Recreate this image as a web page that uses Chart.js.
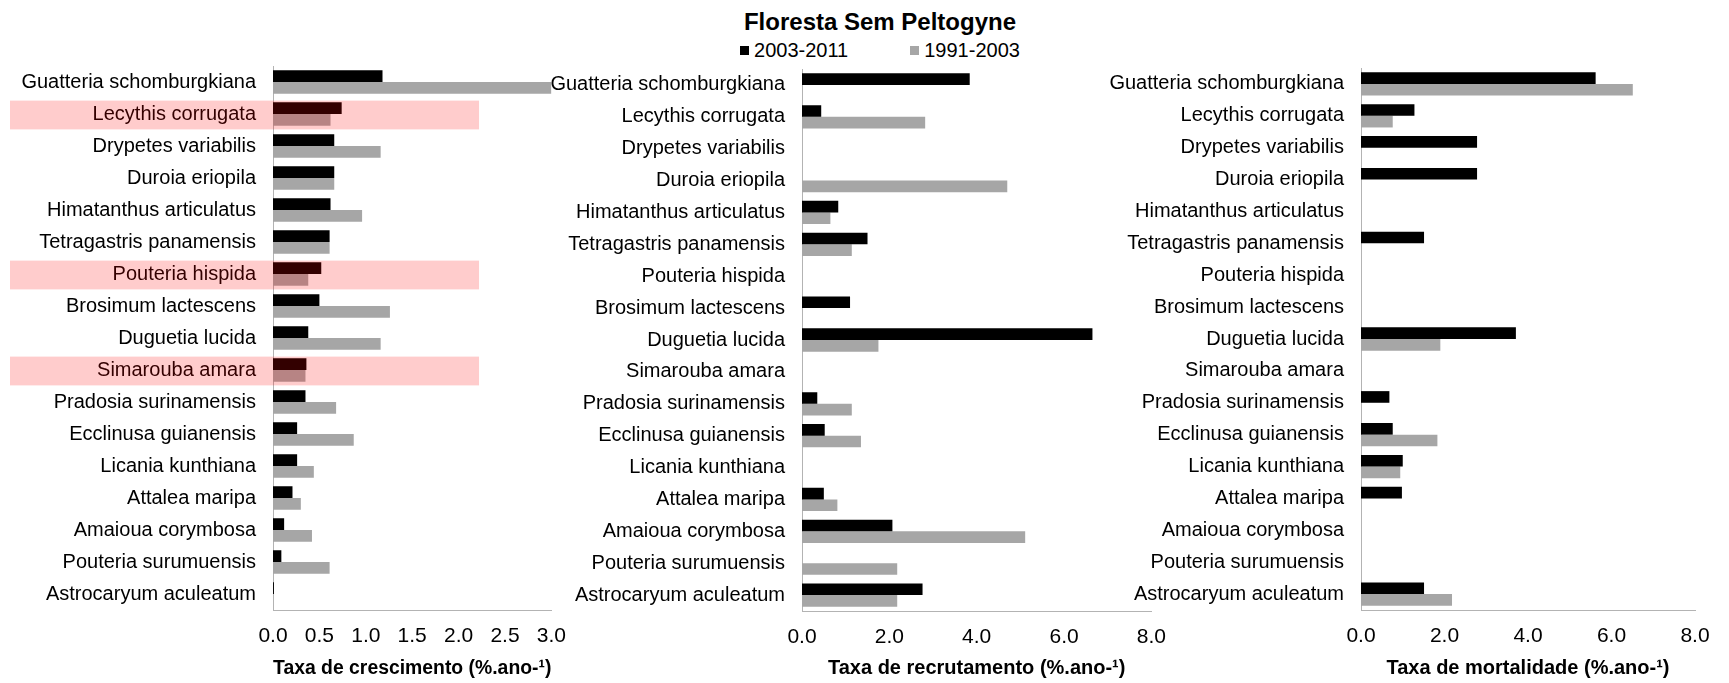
<!DOCTYPE html>
<html>
<head>
<meta charset="utf-8">
<script src="https://cdn.jsdelivr.net/npm/chart.js@4.4.1/dist/chart.umd.min.js"></script>
<style>
  body { margin: 0; background: #fff; }
  #wrap { position: relative; width: 1729px; height: 683px; overflow: hidden; font-family: 'Liberation Sans', Arial, sans-serif; color: #000; }
  #wrap canvas { position: absolute; top: 0; }
  #head { position: absolute; left: 680px; top: 0; width: 400px; text-align: center; }
  #head h1 { margin: 0; padding-top: 8px; font-size: 24px; line-height: 28px; font-weight: bold; }
  #legend { margin-top: 2px; font-size: 20px; line-height: 24px; white-space: nowrap; }
  #legend .item { display: inline-block; }
  #legend .box { display: inline-block; width: 9px; height: 9px; margin-right: 5px; vertical-align: middle; position: relative; top: -1px; }
</style>
</head>
<body>
<div id="wrap">
  <div id="head">
    <h1>Floresta Sem Peltogyne</h1>
    <div id="legend"></div>
  </div>
  <canvas id="chart-growth" width="580" height="683" style="left:0px"></canvas>
  <canvas id="chart-recruit" width="650" height="683" style="left:530px"></canvas>
  <canvas id="chart-mort" width="639" height="683" style="left:1090px"></canvas>
</div>
<script>
let species = ['Guatteria schomburgkiana', 'Lecythis corrugata', 'Drypetes variabilis', 'Duroia eriopila',
  'Himatanthus articulatus', 'Tetragastris panamensis', 'Pouteria hispida', 'Brosimum lactescens',
  'Duguetia lucida', 'Simarouba amara', 'Pradosia surinamensis', 'Ecclinusa guianensis',
  'Licania kunthiana', 'Attalea maripa', 'Amaioua corymbosa', 'Pouteria surumuensis', 'Astrocaryum aculeatum'];
let periods = ['2003-2011', '1991-2003'];
let periodColors = ['#000000', '#a6a6a6'];

// growth rate (%.ano-1)
let growth2003 = [1.18, 0.74, 0.66, 0.66, 0.62, 0.61, 0.52, 0.50, 0.38, 0.36, 0.35, 0.26, 0.26, 0.21, 0.12, 0.09, 0.01];
let growth1991 = [3.0, 0.62, 1.16, 0.66, 0.96, 0.61, 0.38, 1.26, 1.16, 0.35, 0.68, 0.87, 0.44, 0.30, 0.42, 0.61, 0];
// recruitment rate
let recruit2003 = [3.84, 0.44, 0, 0, 0.83, 1.50, 0, 1.10, 6.65, 0, 0.35, 0.52, 0, 0.50, 2.07, 0, 2.76];
let recruit1991 = [0, 2.82, 0, 4.70, 0.65, 1.14, 0, 0, 1.75, 0, 1.14, 1.35, 0, 0.81, 5.11, 2.18, 2.18];
// mortality rate
let mort2003 = [5.62, 1.28, 2.78, 2.78, 0, 1.51, 0, 0, 3.71, 0, 0.68, 0.76, 1.00, 0.98, 0, 0, 1.51];
let mort1991 = [6.51, 0.76, 0, 0, 0, 0, 0, 0, 1.90, 0, 0, 1.83, 0.94, 0, 0, 0, 2.18];

// species marked in pink on the growth panel
let highlighted = ['Lecythis corrugata', 'Pouteria hispida', 'Simarouba amara'];

// legend
const legendEl = document.getElementById('legend');
periods.forEach((p, i) => {
  const item = document.createElement('span');
  item.className = 'item';
  if (i > 0) item.style.marginLeft = '62px';
  const box = document.createElement('span');
  box.className = 'box';
  box.style.background = periodColors[i];
  item.appendChild(box);
  item.appendChild(document.createTextNode(p));
  legendEl.appendChild(item);
});

const tickFont = {family: "'Liberation Sans', Arial, sans-serif", size: 21};
const labelFont = {family: "'Liberation Sans', Arial, sans-serif", size: 20};
const axisTitleFont = {family: "'Liberation Sans', Arial, sans-serif", size: 20, weight: 'bold'};

const highlightPlugin = {
  id: 'highlight',
  afterDraw(chart) {
    const {ctx, scales: {x, y}} = chart;
    const band = (y.getPixelForValue(1) - y.getPixelForValue(0)) * 0.9;
    const right = x.getPixelForValue(2.22);
    ctx.save();
    ctx.fillStyle = 'rgba(255, 0, 0, 0.2)';
    highlighted.forEach(name => {
      const yc = y.getPixelForValue(species.indexOf(name));
      ctx.fillRect(10, yc - band / 2 + 1, right - 10, band);
    });
    ctx.restore();
  }
};

function drawPanel(canvasId, axisTitle, values2003, values1991, xMax, xStep, yAxisWidth, plotTop, plotBottom, padRight, extraPlugins) {
  const ctx = document.getElementById(canvasId).getContext('2d');
  return new Chart(ctx, {
    type: 'bar',
    data: {
      labels: species,
      datasets: [
        {label: periods[0], data: values2003, backgroundColor: periodColors[0]},
        {label: periods[1], data: values1991, backgroundColor: periodColors[1]}
      ]
    },
    options: {
      indexAxis: 'y',
      responsive: false,
      animation: false,
      categoryPercentage: 0.73,
      barPercentage: 1,
      layout: {padding: {top: plotTop, bottom: 0, left: 0, right: padRight}},
      plugins: {
        legend: {display: false},
        tooltip: {enabled: false}
      },
      scales: {
        x: {
          min: 0,
          max: xMax,
          grid: {display: false, drawTicks: false},
          border: {color: '#b3b3b3'},
          ticks: {stepSize: xStep, padding: 14, color: '#000', font: tickFont, maxRotation: 0, autoSkip: false,
            callback: v => v.toFixed(1)},
          title: {display: true, text: axisTitle, color: '#000', font: axisTitleFont, padding: {top: 0, bottom: 3}},
          afterFit: s => { s.height = 683 - plotBottom; }
        },
        y: {
          grid: {display: false, drawTicks: false},
          border: {color: '#b3b3b3'},
          ticks: {padding: 17, color: '#000', font: labelFont, autoSkip: false},
          afterFit: s => { s.width = yAxisWidth; }
        }
      }
    },
    plugins: extraPlugins || []
  });
}

const growthChart = drawPanel('chart-growth', 'Taxa de crescimento (%.ano-¹)', growth2003, growth1991,
  3, 0.5, 273, 66, 610, 28, [highlightPlugin]);
const recruitChart = drawPanel('chart-recruit', 'Taxa de recrutamento (%.ano-¹)', recruit2003, recruit1991,
  8, 2, 272, 69, 611, 21);
const mortChart = drawPanel('chart-mort', 'Taxa de mortalidade (%.ano-¹)', mort2003, mort1991,
  8, 2, 271, 68, 610, 34);
</script>
</body>
</html>
